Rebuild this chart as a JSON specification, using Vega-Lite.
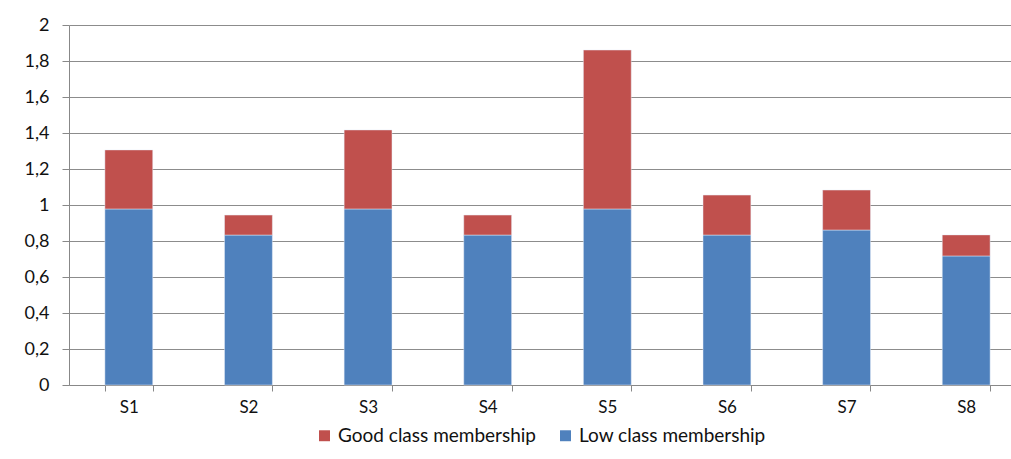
{
  "$schema": "https://vega.github.io/schema/vega-lite/v6.json",
  "autosize": {"type": "none"},
  "width": 942,
  "height": 360,
  "padding": {"left": 69, "top": 25, "right": 0, "bottom": 74},
  "background": "white",
  "config": {
    "font": "Lato",
    "view": {"stroke": null},
    "legend": {"layout": {"bottom": {"anchor": "middle"}}}
  },
  "data": {
    "values": [
      {"sample": "S1", "series": "Low class membership", "value": 0.978},
      {"sample": "S1", "series": "Good class membership", "value": 0.328},
      {"sample": "S2", "series": "Low class membership", "value": 0.833},
      {"sample": "S2", "series": "Good class membership", "value": 0.111},
      {"sample": "S3", "series": "Low class membership", "value": 0.978},
      {"sample": "S3", "series": "Good class membership", "value": 0.439},
      {"sample": "S4", "series": "Low class membership", "value": 0.833},
      {"sample": "S4", "series": "Good class membership", "value": 0.111},
      {"sample": "S5", "series": "Low class membership", "value": 0.978},
      {"sample": "S5", "series": "Good class membership", "value": 0.883},
      {"sample": "S6", "series": "Low class membership", "value": 0.833},
      {"sample": "S6", "series": "Good class membership", "value": 0.222},
      {"sample": "S7", "series": "Low class membership", "value": 0.861},
      {"sample": "S7", "series": "Good class membership", "value": 0.222},
      {"sample": "S8", "series": "Low class membership", "value": 0.717},
      {"sample": "S8", "series": "Good class membership", "value": 0.117}
    ]
  },
  "mark": {"type": "bar", "stroke": "#e8eef8", "strokeWidth": 0.8, "strokeOpacity": 0.6},
  "encoding": {
    "x": {
      "field": "sample",
      "type": "nominal",
      "scale": {"range": [0, 957], "paddingInner": 0.6, "paddingOuter": 0.3},
      "axis": {
        "title": null,
        "labelAngle": 0,
        "labelFontSize": 17,
        "labelColor": "#111",
        "labelPadding": 8,
        "tickBand": "extent",
        "tickSize": 6,
        "tickColor": "#888",
        "domainColor": "#888",
        "grid": false
      }
    },
    "y": {
      "field": "value",
      "type": "quantitative",
      "aggregate": "sum",
      "stack": "zero",
      "scale": {"domain": [0, 2], "nice": false},
      "axis": {
        "title": null,
        "values": [0, 0.2, 0.4, 0.6, 0.8, 1, 1.2, 1.4, 1.6, 1.8, 2],
        "labelExpr": "replace(toString(round(datum.value*10)/10), '.', ',')",
        "labelFontSize": 18,
        "labelColor": "#111",
        "labelPadding": 13,
        "tickSize": 7,
        "tickColor": "#888",
        "domainColor": "#888",
        "gridColor": "#8c8c8c",
        "gridWidth": 1
      }
    },
    "color": {
      "field": "series",
      "type": "nominal",
      "scale": {"domain": ["Good class membership", "Low class membership"], "range": ["#C0504D", "#4F81BD"]},
      "legend": {
        "title": null,
        "orient": "bottom",
        "direction": "horizontal",
        "symbolType": "square",
        "symbolSize": 120,
        "symbolStrokeWidth": 0,
        "labelFontSize": 19,
        "labelLimit": 400,
        "labelColor": "#111",
        "columnPadding": 20,
        "offset": 11
      }
    },
    "order": {"field": "series", "sort": "descending"}
  }
}
